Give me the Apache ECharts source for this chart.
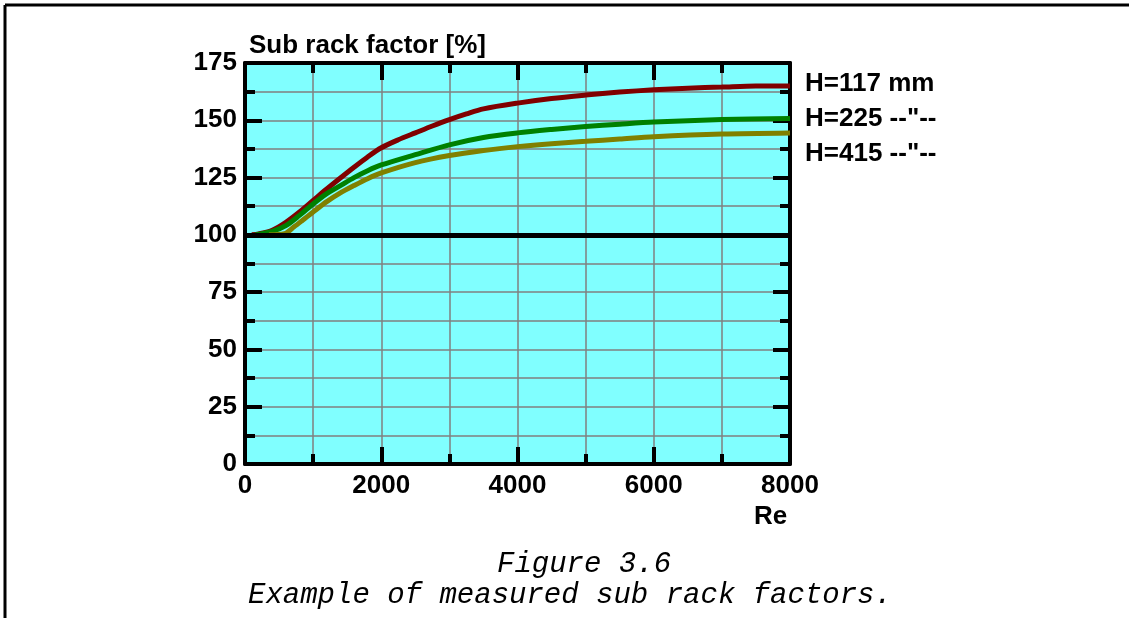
<!DOCTYPE html>
<html>
<head>
<meta charset="utf-8">
<script src="https://cdn.jsdelivr.net/npm/echarts@6/dist/echarts.min.js"></script>
<style>
  html, body { margin: 0; padding: 0; background: #fff; }
  #main { width: 1129px; height: 618px; }
</style>
</head>
<body>
<div id="main"></div>
<script>
// Re / sub rack factor pairs
var h117 = [[100, 100], [200, 100.4], [400, 102], [600, 105.5], [800, 110], [1000, 115], [1200, 120], [1400, 124.8],
  [1600, 129.5], [1800, 134], [2000, 138], [2250, 141.5], [2500, 144.5], [2750, 147.5], [3000, 150.3], [3250, 152.8],
  [3500, 155], [4000, 157.5], [4500, 159.5], [5000, 161], [5500, 162.3], [6000, 163.3], [6500, 164], [7000, 164.5],
  [7500, 165], [8000, 165]];
var h225 = [[150, 100], [400, 101.5], [600, 104], [800, 108.5], [1000, 113.5], [1200, 118], [1400, 121.5], [1600, 125],
  [1800, 128], [2000, 130.5], [2500, 135], [3000, 139.3], [3500, 142.5], [4000, 144.5], [4500, 146], [5000, 147.3],
  [5500, 148.3], [6000, 149.2], [7000, 150.3], [8000, 150.8]];
var h415 = [[350, 100], [580, 100.5], [720, 103.5], [850, 106.5], [1000, 110], [1200, 114.5], [1400, 118.3], [1600, 121.5],
  [1800, 124.5], [2000, 127], [2500, 131.5], [3000, 134.6], [3500, 136.8], [4000, 138.5], [4500, 139.8], [5000, 140.8],
  [5500, 141.8], [6000, 142.8], [7000, 144], [8000, 144.5]];
var seriesNames = ["H=117 mm", 'H=225 --"--', 'H=415 --"--'];
var refLevel = 100;

var font = "Liberation Sans, Arial, sans-serif";
var capFont = "Liberation Mono, Courier New, monospace";

function makeX(pos, labels) {
  return {
    type: "value", min: 0, max: 8000, interval: 2000, position: pos,
    axisLine: { show: true, onZero: false, lineStyle: { color: "#000", width: 4 } },
    axisTick: { show: true, inside: true, length: 17, lineStyle: { color: "#000", width: 4 } },
    minorTick: { show: true, splitNumber: 2, length: 10, lineStyle: { color: "#000", width: 4 } },
    splitLine: { show: labels, lineStyle: { color: "#808080", width: 1.5 } },
    minorSplitLine: { show: labels, lineStyle: { color: "#808080", width: 1.5 } },
    axisLabel: {
      show: labels, color: "#000", fontFamily: font, fontWeight: "bold", fontSize: 26, margin: 9,
      formatter: function (v) { return String(v); }
    }
  };
}
function makeY(pos, labels) {
  return {
    type: "value", min: 0, max: 175, interval: 25, position: pos,
    axisLine: { show: true, onZero: false, lineStyle: { color: "#000", width: 4 } },
    axisTick: { show: true, inside: true, length: 17, lineStyle: { color: "#000", width: 4 } },
    minorTick: { show: true, splitNumber: 2, length: 10, lineStyle: { color: "#000", width: 4 } },
    splitLine: { show: labels, lineStyle: { color: "#808080", width: 1.5 } },
    minorSplitLine: { show: labels, lineStyle: { color: "#808080", width: 1.5 } },
    axisLabel: { show: labels, color: "#000", fontFamily: font, fontWeight: "bold", fontSize: 26, margin: 8 }
  };
}

var myChart = echarts.init(document.getElementById("main"));
var option = {
  backgroundColor: "#fff",
  animation: false,
  title: {
    text: "Sub rack factor [%]", left: 244, top: 28,
    textStyle: { color: "#000", fontFamily: font, fontWeight: "bold", fontSize: 26 }
  },
  grid: {
    left: 245, right: 339, top: 63, bottom: 154,
    show: true, backgroundColor: "#80ffff", borderWidth: 0
  },
  xAxis: [makeX("bottom", true), makeX("top", false)],
  yAxis: [makeY("left", true), makeY("right", false)],
  series: [
    {
      name: seriesNames[0], type: "line", data: h117, showSymbol: false, smooth: 0.3,
      lineStyle: { color: "#800000", width: 5 }, itemStyle: { color: "#800000" },
      markLine: {
        silent: true, symbol: "none", label: { show: false },
        lineStyle: { color: "#000", width: 5, type: "solid" },
        data: [{ yAxis: refLevel }]
      }
    },
    {
      name: seriesNames[1], type: "line", data: h225, showSymbol: false, smooth: 0.3,
      lineStyle: { color: "#008000", width: 5 }, itemStyle: { color: "#008000" }
    },
    {
      name: seriesNames[2], type: "line", data: h415, showSymbol: false, smooth: 0.3,
      lineStyle: { color: "#808000", width: 5 }, itemStyle: { color: "#808000" }
    }
  ],
  graphic: [
    { type: "line", shape: { x1: 5, y1: 5, x2: 1129, y2: 5 }, style: { stroke: "#000", lineWidth: 3 } },
    { type: "line", shape: { x1: 5, y1: 5, x2: 5, y2: 618 }, style: { stroke: "#000", lineWidth: 3 } },
    { type: "text", left: 805, top: 71, style: { text: seriesNames[0], fill: "#000", font: "bold 26px " + font } },
    { type: "text", left: 805, top: 106, style: { text: seriesNames[1], fill: "#000", font: "bold 26px " + font } },
    { type: "text", left: 805, top: 141, style: { text: seriesNames[2], fill: "#000", font: "bold 26px " + font } },
    { type: "text", left: 754, top: 504, style: { text: "Re", fill: "#000", font: "bold 26px " + font } },
    { type: "text", left: 497, top: 550, style: { text: "Figure 3.6", fill: "#000", font: "italic 29px " + capFont } },
    { type: "text", left: 248, top: 581, style: { text: "Example of measured sub rack factors.", fill: "#000", font: "italic 29px " + capFont } }
  ]
};
myChart.setOption(option);
</script>
</body>
</html>
